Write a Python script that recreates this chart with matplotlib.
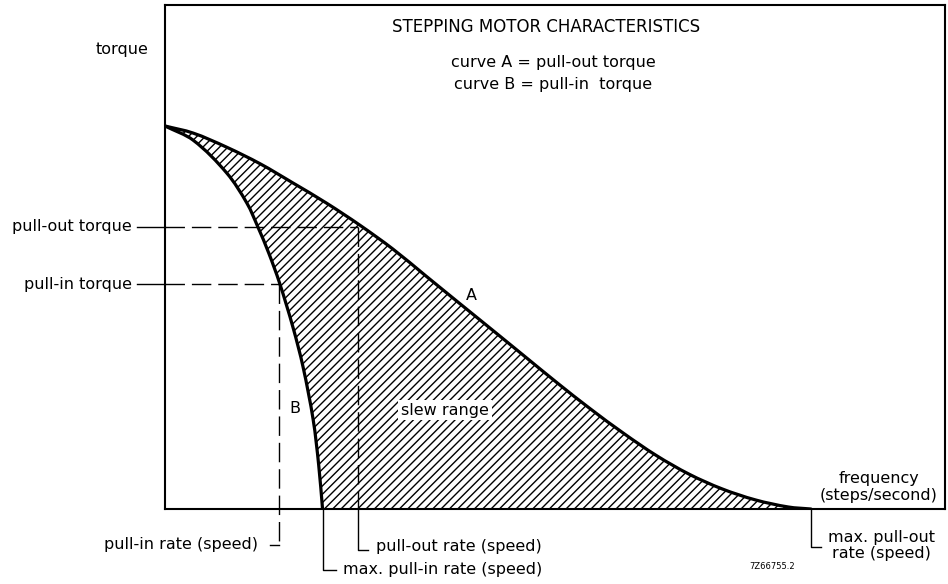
import numpy as np
import matplotlib
matplotlib.use('Agg')
import matplotlib.pyplot as plt
from matplotlib.path import Path
from matplotlib.patches import PathPatch

# curve A = pull-out torque, curve B = pull-in torque (arbitrary units)
freq_a = [0, 3.6, 7.9, 12.2, 16.4, 20.7, 25.0, 29.2, 33.4, 37.6, 41.9, 46.1,
          50.3, 54.5, 58.8, 63.0, 67.2, 71.4, 75.7, 79.9, 82.8]
torque_a = [76.0, 74.6, 71.8, 68.5, 64.7, 60.7, 56.3, 51.6, 46.3, 41.0, 35.6, 30.3,
            25.0, 19.9, 15.0, 10.6, 6.9, 4.0, 1.8, 0.4, 0.0]

freq_b = [0, 3.6, 7.9, 10.5, 11.9, 13.3, 14.7, 16.4, 17.7, 19.0, 19.7, 20.2]
torque_b = [76.0, 73.2, 66.7, 60.7, 56.0, 50.8, 44.8, 36.1, 28.2, 17.7, 8.8, 0.0]

pull_out_torque = 56.0
pull_out_rate = 24.8
pull_in_torque = 44.6
pull_in_rate = 14.6
max_pull_in_rate = freq_b[-1]
max_pull_out_rate = freq_a[-1]


def smooth_vertices(xs, ys):
    # cubic bezier through the points (catmull-rom style tangents)
    p = np.column_stack([xs, ys]).astype(float)
    n = len(p)
    verts = [p[0]]
    for i in range(n - 1):
        seg = np.hypot(*(p[i + 1] - p[i]))
        t0 = p[min(i + 1, n - 1)] - p[max(i - 1, 0)]
        t1 = p[min(i + 2, n - 1)] - p[i]
        t0 = t0 / np.hypot(*t0) * seg / 3
        t1 = t1 / np.hypot(*t1) * seg / 3
        verts += [p[i] + t0, p[i + 1] - t1, p[i + 1]]
    return np.array(verts)


plt.rcParams['font.family'] = ['DejaVu Sans']
plt.rcParams['hatch.linewidth'] = 1.0

fig = plt.figure(figsize=(9.48, 5.84), dpi=100)
ax = fig.add_axes([0.174, 0.1284, 0.823, 0.863])
ax.set_xlim(0, 100)
ax.set_ylim(0, 100)
ax.set_xticks([])
ax.set_yticks([])
for s in ax.spines.values():
    s.set_linewidth(1.5)

va_ = smooth_vertices(freq_a, torque_a)
vb_ = smooth_vertices(freq_b, torque_b)
codes_a = [Path.MOVETO] + [Path.CURVE4] * (len(va_) - 1)
codes_b = [Path.MOVETO] + [Path.CURVE4] * (len(vb_) - 1)

# hatched slew range between the two curves
fill_verts = np.concatenate([va_, vb_[::-1], [va_[0]]])
fill_codes = codes_a + [Path.LINETO] + [Path.CURVE4] * (len(vb_) - 1) + [Path.CLOSEPOLY]
ax.add_patch(PathPatch(Path(fill_verts, fill_codes), facecolor='white',
                       edgecolor='black', hatch='////', linewidth=0))

for v, c in [(va_, codes_a), (vb_, codes_b)]:
    ax.add_patch(PathPatch(Path(v, c), facecolor='none', edgecolor='black',
                           lw=2.3, capstyle='round', zorder=5))

dash = dict(color='black', lw=1.0, dashes=(14, 5), clip_on=False, zorder=4)
solid = dict(color='black', lw=1.0, clip_on=False, zorder=4)

# torque guides
ax.plot([0, pull_out_rate], [pull_out_torque, pull_out_torque], **dash)
ax.plot([0, pull_in_rate], [pull_in_torque, pull_in_torque], **dash)
ax.plot([-3.6, 0], [pull_out_torque, pull_out_torque], **solid)
ax.plot([-3.6, 0], [pull_in_torque, pull_in_torque], **solid)

# rate guides
ax.plot([pull_in_rate, pull_in_rate], [pull_in_torque, -7.1], **dash)
ax.plot([pull_in_rate - 1.1, pull_in_rate], [-7.1, -7.1], **solid)
ax.plot([pull_out_rate, pull_out_rate], [pull_out_torque, 0], **dash)
ax.plot([pull_out_rate, pull_out_rate, pull_out_rate + 1.2], [0, -8.1, -8.1], **solid)
ax.plot([max_pull_in_rate, max_pull_in_rate, max_pull_in_rate + 1.7], [0, -12.1, -12.1], **solid)
ax.plot([max_pull_out_rate, max_pull_out_rate, max_pull_out_rate + 1.3], [0, -7.5, -7.5], **solid)

fs = 11.5
ax.text(48.8, 95.6, 'STEPPING MOTOR CHARACTERISTICS', ha='center', va='center', fontsize=12)
ax.text(49.8, 88.5, 'curve A = pull-out torque', ha='center', va='center', fontsize=fs)
ax.text(49.8, 84.3, 'curve B = pull-in  torque', ha='center', va='center', fontsize=fs)
ax.text(-2.05, 91.1, 'torque', ha='right', va='center', fontsize=fs)
ax.text(-4.2, pull_out_torque, 'pull-out torque', ha='right', va='center', fontsize=fs)
ax.text(-4.2, pull_in_torque, 'pull-in torque', ha='right', va='center', fontsize=fs)
ax.text(39.3, 42.3, 'A', ha='center', va='center', fontsize=fs)
ax.text(16.6, 20.0, 'B', ha='center', va='center', fontsize=fs)
ax.text(35.9, 19.6, 'slew range', ha='center', va='center', fontsize=fs, zorder=6,
        bbox=dict(facecolor='white', edgecolor='none', pad=2))
ax.text(91.5, 4.4, 'frequency\n(steps/second)', ha='center', va='center', fontsize=fs,
        linespacing=1.2)
ax.text(91.8, -7.3, 'max. pull-out\nrate (speed)', ha='center', va='center', fontsize=fs,
        linespacing=1.1)
ax.text(11.9, -7.1, 'pull-in rate (speed)', ha='right', va='center', fontsize=fs)
ax.text(27.1, -7.4, 'pull-out rate (speed)', ha='left', va='center', fontsize=fs)
ax.text(22.8, -12.1, 'max. pull-in rate (speed)', ha='left', va='center', fontsize=fs)
ax.text(77.8, -11.5, '7Z66755.2', ha='center', va='center', fontsize=6)

fig.savefig('out.png', dpi=100)
